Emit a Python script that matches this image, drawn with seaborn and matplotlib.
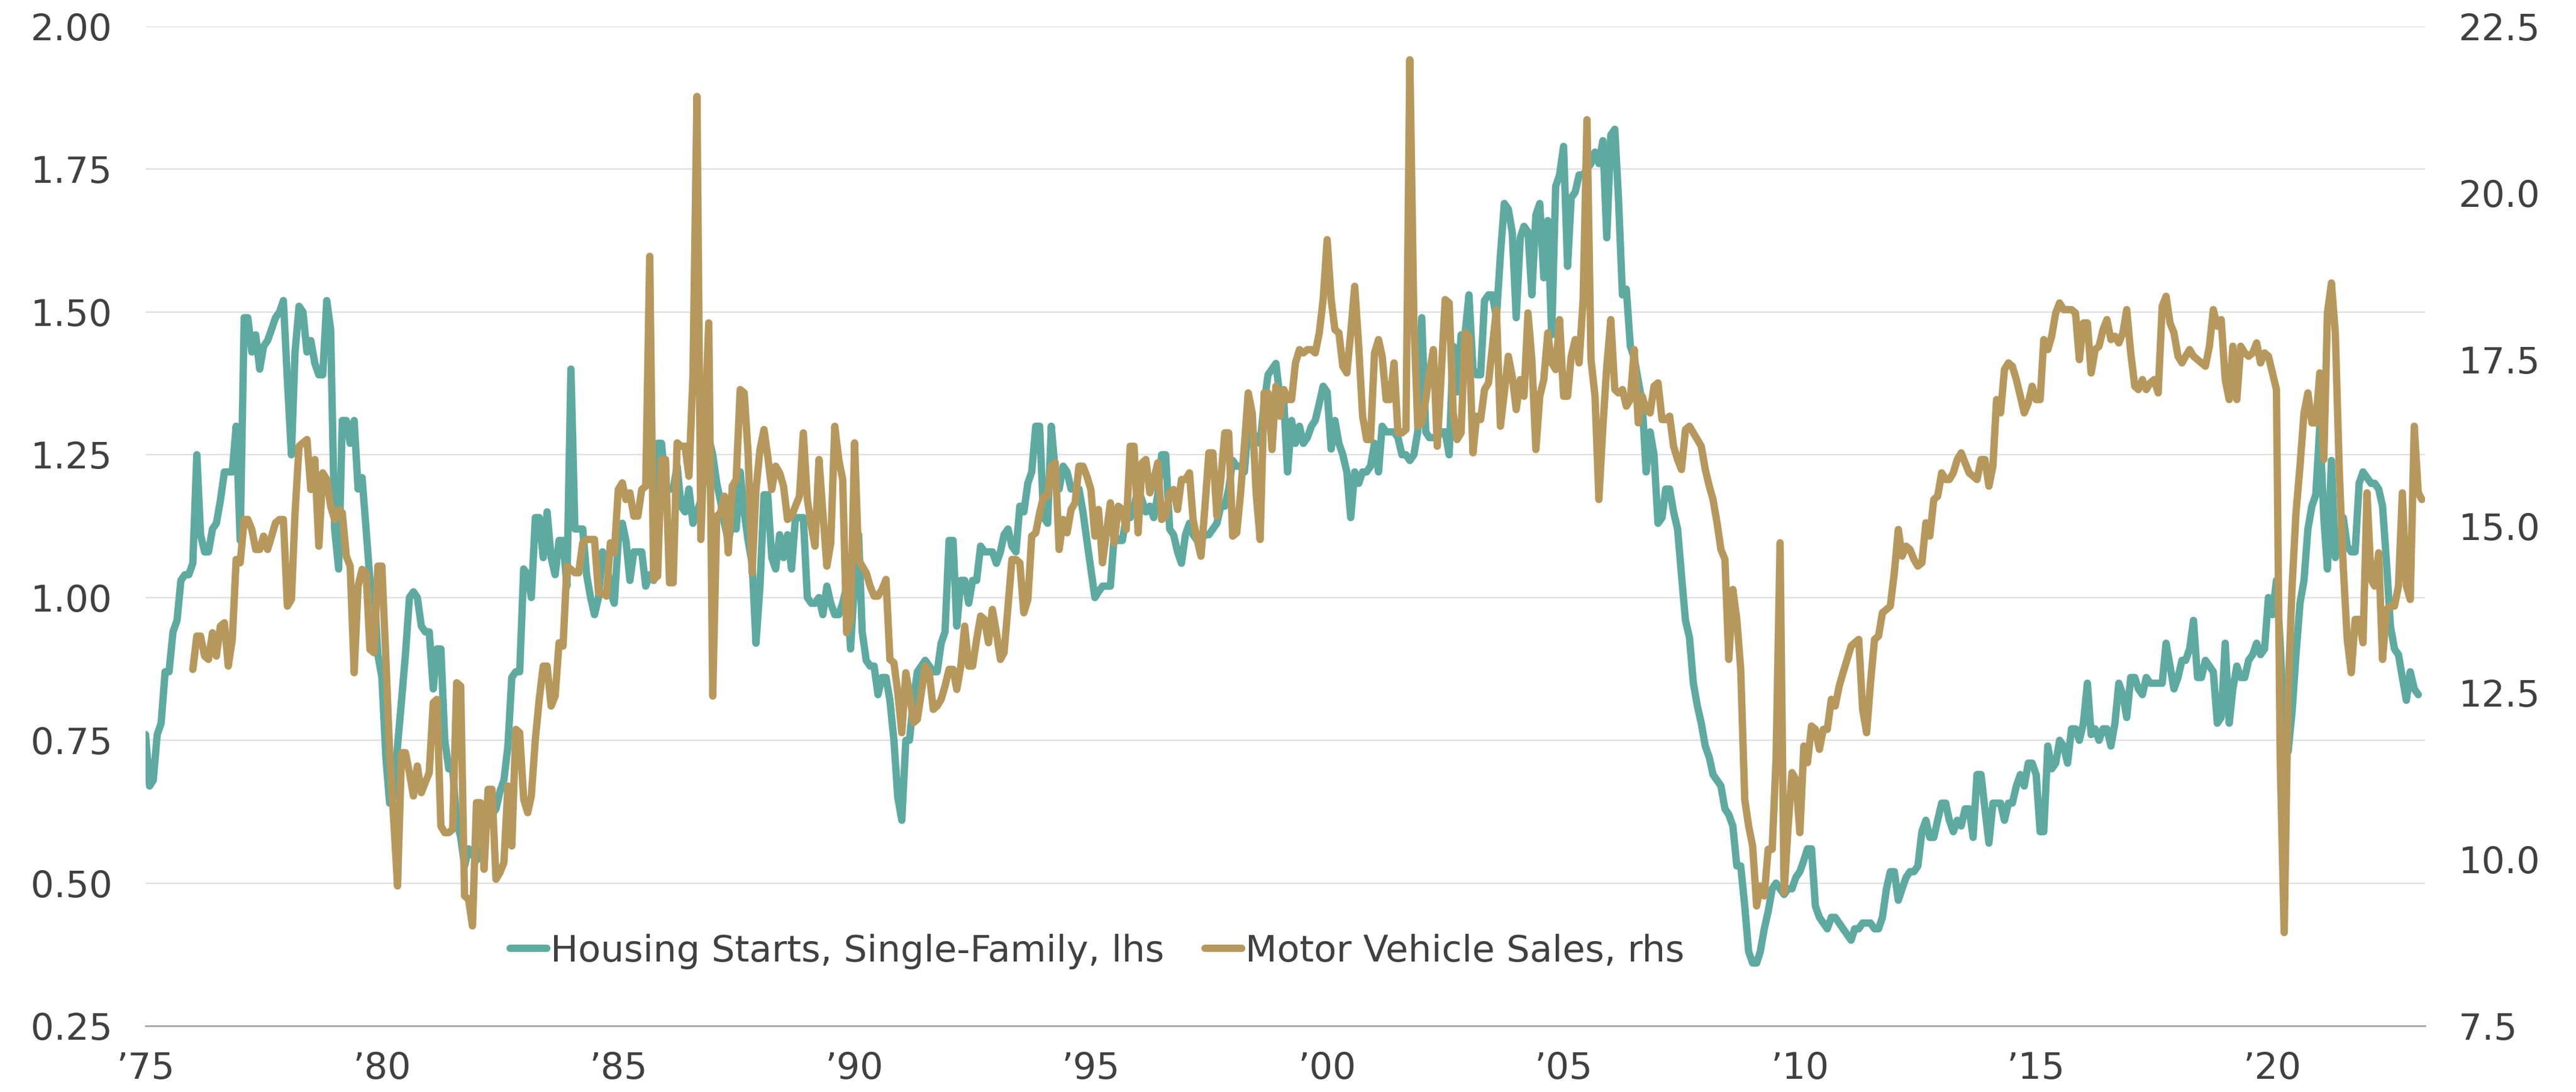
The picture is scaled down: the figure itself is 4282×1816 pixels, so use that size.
import pandas as pd
import matplotlib
matplotlib.use("Agg")
import matplotlib.pyplot as plt
import seaborn as sns

# Colors
teal = '#5EAAA0'
tan = '#B7985C'
text_color = '#404040'

# Single-family housing starts (mn, SAAR), monthly from Jan 1975
housing_starts = [
    0.76, 0.67, 0.68, 0.76, 0.78, 0.87, 0.87, 0.94, 0.96, 1.03, 1.04, 1.04,  # 1975
    1.06, 1.25, 1.11, 1.08, 1.08, 1.12, 1.13, 1.17, 1.22, 1.22, 1.22, 1.30,  # 1976
    1.10, 1.49, 1.49, 1.43, 1.46, 1.40, 1.44, 1.45, 1.47, 1.49, 1.50, 1.52,  # 1977
    1.38, 1.25, 1.43, 1.51, 1.50, 1.43, 1.45, 1.41, 1.39, 1.39, 1.52, 1.47,  # 1978
    1.12, 1.05, 1.31, 1.31, 1.27, 1.31, 1.19, 1.21, 1.12, 1.03, 1.02, 0.90,  # 1979
    0.86, 0.72, 0.64, 0.65, 0.74, 0.82, 0.90, 1.00, 1.01, 1.00, 0.95, 0.94,  # 1980
    0.94, 0.84, 0.91, 0.91, 0.75, 0.70, 0.70, 0.61, 0.58, 0.53, 0.56, 0.55,  # 1981
    0.54, 0.55, 0.58, 0.61, 0.62, 0.63, 0.66, 0.68, 0.74, 0.86, 0.87, 0.87,  # 1982
    1.05, 1.04, 1.00, 1.14, 1.14, 1.07, 1.15, 1.07, 1.04, 1.10, 1.10, 1.02,  # 1983
    1.40, 1.12, 1.12, 1.12, 1.04, 1.00, 0.97, 1.00, 1.08, 1.07, 1.01, 0.99,  # 1984
    1.10, 1.13, 1.10, 1.03, 1.08, 1.08, 1.08, 1.02, 1.04, 1.03, 1.27, 1.27,  # 1985
    1.19, 1.19, 1.19, 1.23, 1.16, 1.15, 1.19, 1.13, 1.15, 1.17, 1.22, 1.28,  # 1986
    1.25, 1.20, 1.17, 1.13, 1.10, 1.13, 1.12, 1.22, 1.15, 1.10, 1.06, 0.92,  # 1987
    1.02, 1.18, 1.18, 1.07, 1.05, 1.11, 1.07, 1.11, 1.05, 1.14, 1.14, 1.14,  # 1988
    1.00, 0.99, 0.99, 1.00, 0.97, 1.02, 0.99, 0.97, 0.97, 0.99, 1.02, 0.91,  # 1989
    1.03, 1.11, 0.94, 0.89, 0.88, 0.88, 0.83, 0.86, 0.86, 0.82, 0.75, 0.65,  # 1990
    0.61, 0.75, 0.75, 0.82, 0.87, 0.88, 0.89, 0.88, 0.87, 0.87, 0.92, 0.94,  # 1991
    1.10, 1.10, 0.95, 1.03, 1.03, 0.99, 1.03, 1.03, 1.09, 1.08, 1.08, 1.08,  # 1992
    1.06, 1.08, 1.11, 1.12, 1.09, 1.08, 1.16, 1.15, 1.20, 1.22, 1.30, 1.30,  # 1993
    1.14, 1.13, 1.30, 1.22, 1.19, 1.23, 1.22, 1.19, 1.19, 1.19, 1.15, 1.10,  # 1994
    1.05, 1.00, 1.01, 1.02, 1.02, 1.02, 1.11, 1.10, 1.10, 1.14, 1.14, 1.16,  # 1995
    1.19, 1.17, 1.15, 1.16, 1.14, 1.18, 1.25, 1.25, 1.12, 1.11, 1.08, 1.06,  # 1996
    1.11, 1.13, 1.11, 1.10, 1.10, 1.11, 1.11, 1.12, 1.13, 1.16, 1.16, 1.19,  # 1997
    1.24, 1.23, 1.23, 1.22, 1.30, 1.29, 1.28, 1.27, 1.34, 1.39, 1.40, 1.41,  # 1998
    1.35, 1.34, 1.22, 1.31, 1.27, 1.30, 1.27, 1.28, 1.30, 1.31, 1.34, 1.37,  # 1999
    1.36, 1.26, 1.31, 1.27, 1.25, 1.22, 1.14, 1.22, 1.20, 1.22, 1.22, 1.23,  # 2000
    1.27, 1.22, 1.30, 1.29, 1.29, 1.29, 1.28, 1.25, 1.25, 1.24, 1.25, 1.29,  # 2001
    1.49, 1.29, 1.28, 1.28, 1.28, 1.29, 1.29, 1.25, 1.44, 1.36, 1.46, 1.46,  # 2002
    1.53, 1.40, 1.39, 1.39, 1.52, 1.53, 1.53, 1.49, 1.60, 1.69, 1.68, 1.64,  # 2003
    1.49, 1.63, 1.65, 1.64, 1.53, 1.67, 1.69, 1.56, 1.66, 1.46, 1.72, 1.74,  # 2004
    1.79, 1.58, 1.70, 1.71, 1.74, 1.74, 1.75, 1.76, 1.78, 1.76, 1.80, 1.63,  # 2005
    1.81, 1.82, 1.70, 1.53, 1.54, 1.44, 1.42, 1.38, 1.34, 1.22, 1.29, 1.25,  # 2006
    1.13, 1.14, 1.19, 1.19, 1.15, 1.12, 1.04, 0.96, 0.93, 0.85, 0.81, 0.78,  # 2007
    0.74, 0.72, 0.69, 0.68, 0.67, 0.63, 0.62, 0.60, 0.53, 0.53, 0.46, 0.38,  # 2008
    0.36, 0.36, 0.38, 0.42, 0.45, 0.49, 0.50, 0.49, 0.48, 0.49, 0.49, 0.51,  # 2009
    0.52, 0.54, 0.56, 0.56, 0.46, 0.44, 0.43, 0.42, 0.44, 0.44, 0.43, 0.42,  # 2010
    0.41, 0.40, 0.42, 0.42, 0.43, 0.43, 0.43, 0.42, 0.42, 0.44, 0.49, 0.52,  # 2011
    0.52, 0.47, 0.49, 0.51, 0.52, 0.52, 0.53, 0.59, 0.61, 0.58, 0.58, 0.61,  # 2012
    0.64, 0.64, 0.61, 0.59, 0.61, 0.60, 0.63, 0.63, 0.58, 0.69, 0.69, 0.63,  # 2013
    0.57, 0.64, 0.64, 0.64, 0.61, 0.64, 0.64, 0.67, 0.69, 0.67, 0.71, 0.71,  # 2014
    0.69, 0.59, 0.59, 0.74, 0.70, 0.71, 0.75, 0.74, 0.71, 0.77, 0.77, 0.75,  # 2015
    0.78, 0.85, 0.76, 0.77, 0.75, 0.77, 0.77, 0.74, 0.78, 0.85, 0.83, 0.79,  # 2016
    0.86, 0.86, 0.84, 0.83, 0.86, 0.85, 0.85, 0.85, 0.85, 0.92, 0.88, 0.84,  # 2017
    0.86, 0.89, 0.89, 0.91, 0.96, 0.86, 0.86, 0.89, 0.88, 0.87, 0.78, 0.79,  # 2018
    0.92, 0.78, 0.84, 0.88, 0.86, 0.86, 0.89, 0.90, 0.92, 0.90, 0.91, 1.00,  # 2019
    0.97, 1.03, 0.92, 0.76, 0.73, 0.80, 0.90, 0.99, 1.03, 1.12, 1.16, 1.18,  # 2020
    1.30, 1.14, 1.05, 1.24, 1.07, 1.09, 1.14, 1.09, 1.08, 1.08, 1.20, 1.22,  # 2021
    1.21, 1.20, 1.20, 1.19, 1.16, 1.06, 0.95, 0.91, 0.90, 0.86, 0.82, 0.87,  # 2022
    0.84, 0.83,                                                              # 2023
]

# Total motor vehicle sales (mn, SAAR), monthly from Jan 1976
vehicle_sales = [
    12.85, 13.35, 13.35, 13.05, 13.0, 13.4, 13.05, 13.5, 13.55, 12.9, 13.3, 14.5,    # 1976
    14.45, 15.1, 15.1, 14.95, 14.65, 14.65, 14.85, 14.65, 14.85, 15.05, 15.1, 15.1,  # 1977
    13.8, 13.9, 15.2, 16.2, 16.25, 16.3, 15.55, 16.0, 14.7, 15.8, 15.7, 15.3,        # 1978
    15.1, 15.25, 15.2, 14.55, 14.4, 12.8, 14.1, 14.35, 14.3, 13.15, 13.1, 14.4,      # 1979
    14.4, 13.0, 11.6, 10.6, 9.6, 11.6, 11.6, 11.3, 10.95, 11.4, 11.0, 11.15,         # 1980
    11.3, 12.35, 12.4, 10.5, 10.4, 10.4, 10.45, 12.65, 12.6, 9.45, 9.4, 9.0,         # 1981
    10.85, 10.85, 9.85, 11.05, 11.05, 9.7, 9.8, 9.95, 11.1, 10.2, 11.95, 11.9,       # 1982
    10.9, 10.7, 10.95, 11.8, 12.4, 12.9, 12.9, 12.3, 12.45, 13.25, 13.2, 14.4,       # 1983
    14.35, 14.3, 14.3, 14.75, 14.8, 14.8, 14.8, 14.0, 14.0, 13.95, 14.75, 14.6,      # 1984
    15.55, 15.65, 15.4, 15.5, 15.15, 15.15, 15.55, 15.6, 19.05, 14.2, 14.25, 16.0,   # 1985
    16.0, 14.15, 14.15, 16.25, 16.2, 16.2, 15.75, 17.25, 21.45, 14.8, 16.5, 18.05,   # 1986
    12.45, 15.15, 15.2, 15.45, 14.6, 15.6, 15.7, 17.05, 17.0, 16.1, 14.3, 15.55,     # 1987
    16.15, 16.45, 16.05, 15.55, 15.9, 15.8, 15.6, 15.1, 15.15, 15.3, 15.45, 16.4,    # 1988
    15.4, 15.0, 14.7, 16.0, 15.2, 14.4, 14.75, 16.5, 16.0, 15.7, 13.4, 13.6,         # 1989
    16.25, 14.5, 14.4, 14.3, 14.1, 13.95, 13.95, 14.05, 14.2, 13.0, 12.95, 12.5,     # 1990
    11.9, 12.8, 12.5, 12.05, 12.1, 12.5, 12.9, 12.8, 12.25, 12.3, 12.4, 12.6,        # 1991
    12.85, 12.85, 12.55, 12.9, 13.5, 12.9, 12.9, 13.3, 13.65, 13.6, 13.25, 13.75,    # 1992
    13.4, 13.0, 13.1, 13.8, 14.5, 14.5, 14.45, 13.7, 13.9, 14.85, 14.9, 15.2,        # 1993
    15.45, 15.45, 15.9, 15.95, 14.65, 15.1, 14.9, 15.25, 15.35, 15.9, 15.9, 15.75,   # 1994
    15.55, 14.85, 15.25, 14.45, 14.9, 15.35, 14.75, 15.3, 15.25, 14.95, 16.2, 16.2,  # 1995
    14.9, 15.95, 16.0, 15.5, 15.7, 15.95, 15.1, 15.15, 15.5, 15.55, 15.25, 15.7,     # 1996
    15.7, 15.8, 15.1, 14.8, 14.55, 15.3, 16.1, 16.1, 15.15, 15.7, 16.4, 16.4,        # 1997
    14.85, 14.9, 15.45, 16.2, 17.0, 16.7, 15.5, 14.8, 17.0, 17.0, 16.15, 17.1,       # 1998
    16.65, 17.05, 16.9, 16.9, 17.45, 17.65, 17.6, 17.65, 17.65, 17.6, 17.9, 18.4,    # 1999
    19.3, 18.4, 17.95, 17.9, 17.4, 17.3, 17.9, 18.6, 17.7, 16.65, 16.3, 16.3,        # 2000
    17.6, 17.8, 17.55, 16.9, 16.9, 17.45, 16.4, 16.4, 16.45, 22.0, 18.1, 16.5,       # 2001
    16.55, 16.9, 17.3, 17.65, 16.2, 17.3, 18.4, 18.35, 16.7, 16.3, 16.4, 17.9,       # 2002
    17.85, 16.1, 16.65, 16.6, 17.05, 17.15, 17.7, 18.25, 16.5, 17.0, 17.55, 17.25,   # 2003
    16.75, 17.2, 16.95, 18.2, 17.5, 16.15, 16.95, 17.2, 17.9, 17.45, 17.35, 18.1,    # 2004
    16.95, 16.95, 17.55, 17.8, 17.45, 18.4, 21.1, 17.5, 16.95, 15.4, 16.5, 17.4,     # 2005
    18.1, 17.05, 17.0, 17.05, 16.8, 16.9, 17.65, 16.55, 16.95, 16.75, 16.7, 17.1,    # 2006
    17.15, 16.6, 16.6, 16.65, 16.2, 16.0, 15.85, 16.45, 16.5, 16.4, 16.3, 16.2,      # 2007
    15.85, 15.6, 15.4, 15.05, 14.65, 14.5, 13.0, 14.05, 13.6, 12.85, 10.9, 10.5,     # 2008
    10.2, 9.3, 9.6, 9.45, 10.15, 10.15, 11.5, 14.75, 9.5, 10.45, 11.3, 11.2,         # 2009
    10.4, 11.7, 11.45, 12.0, 11.95, 11.65, 11.95, 11.95, 12.4, 12.3, 12.6, 12.8,     # 2010
    13.0, 13.2, 13.25, 13.3, 12.25, 11.9, 12.65, 13.3, 13.35, 13.7, 13.75, 13.8,     # 2011
    14.3, 14.95, 14.55, 14.7, 14.65, 14.5, 14.4, 14.45, 15.05, 14.85, 15.4, 15.45,   # 2012
    15.8, 15.7, 15.7, 15.8, 16.0, 16.1, 15.95, 15.8, 15.75, 15.7, 16.0, 16.0,        # 2013
    15.6, 15.9, 16.9, 16.7, 17.35, 17.45, 17.4, 17.2, 16.95, 16.7, 16.85, 17.1,      # 2014
    16.9, 16.9, 17.8, 17.65, 17.85, 18.2, 18.35, 18.25, 18.25, 18.25, 18.2, 17.5,    # 2015
    18.05, 18.05, 17.3, 17.65, 17.7, 17.95, 18.1, 17.8, 17.85, 17.75, 17.9, 18.25,   # 2016
    17.6, 17.1, 17.05, 17.2, 17.05, 17.15, 17.2, 17.0, 18.3, 18.45, 18.05, 17.9,     # 2017
    17.55, 17.45, 17.55, 17.65, 17.55, 17.5, 17.45, 17.4, 17.7, 18.25, 18.0, 18.1,   # 2018
    17.2, 16.9, 17.7, 16.9, 17.7, 17.6, 17.55, 17.6, 17.75, 17.45, 17.6, 17.55,      # 2019
    17.3, 17.05, 11.5, 8.9, 12.5, 14.1, 15.2, 15.9, 16.7, 17.0, 16.55, 16.55,        # 2020
    17.3, 16.0, 18.2, 18.65, 17.9, 15.8, 14.4, 13.3, 12.8, 13.6, 13.6, 13.25,        # 2021
    15.5, 14.2, 14.1, 14.6, 13.0, 13.75, 13.8, 13.8, 14.1, 15.5, 14.1, 13.9,         # 2022
    16.5, 15.5, 15.4,                                                                # 2023
]

tick_years = [1975, 1980, 1985, 1990, 1995, 2000, 2005, 2010, 2015, 2020]
tick_labels = ["\u2019" + str(y)[2:] for y in tick_years]
left_ticks = [0.25, 0.50, 0.75, 1.00, 1.25, 1.50, 1.75, 2.00]
right_ticks = [7.5, 10.0, 12.5, 15.0, 17.5, 20.0, 22.5]
series_names = ["Housing Starts, Single-Family, lhs", "Motor Vehicle Sales, rhs"]

hs = pd.DataFrame({
    "date": pd.date_range("1975-01-01", periods=len(housing_starts), freq="MS"),
    "value": housing_starts,
})
mv = pd.DataFrame({
    "date": pd.date_range("1976-01-01", periods=len(vehicle_sales), freq="MS"),
    "value": vehicle_sales,
})

sns.set_style("white")
plt.rcParams["font.family"] = ["DejaVu Sans"]

W, H = 4282, 1816
fig = plt.figure(figsize=(W / 200, H / 200), dpi=200)
left, right, top, bottom = 242, 4031, 44, 1706
ax = fig.add_axes([left / W, 1 - bottom / H, (right - left) / W, (bottom - top) / H])
ax2 = ax.twinx()

line_kw = dict(linewidth=4.4, solid_capstyle="round", solid_joinstyle="round")
sns.lineplot(data=hs, x="date", y="value", ax=ax, color=teal, legend=False, **line_kw)
sns.lineplot(data=mv, x="date", y="value", ax=ax2, color=tan, legend=False, **line_kw)

ax.set_xlim(pd.Timestamp("1975-01-01"), pd.Timestamp("2023-03-25"))
ax.set_ylim(0.25, 2.00)
ax2.set_ylim(7.5, 22.5)

ax.set_xticks([pd.Timestamp(f"{y}-01-01") for y in tick_years])
ax.set_xticklabels(tick_labels)
ax.set_yticks(left_ticks)
ax.set_yticklabels([f"{v:.2f}" for v in left_ticks])
ax2.set_yticks(right_ticks)
ax2.set_yticklabels([f"{v:.1f}" for v in right_ticks])

ax.set_xlabel("")
ax.set_ylabel("")
ax2.set_ylabel("")

ax.yaxis.grid(True, color="#dedede", linewidth=0.8)
ax.xaxis.grid(False)
ax2.grid(False)
ax.set_axisbelow(True)

for a in (ax, ax2):
    for s in ("top", "left", "right", "bottom"):
        a.spines[s].set_visible(False)
ax.spines["bottom"].set_visible(True)
ax.spines["bottom"].set_color("#a6a6a6")
ax.spines["bottom"].set_linewidth(1.0)

ax.tick_params(axis="y", length=0, labelsize=22, labelcolor=text_color, pad=20)
ax.tick_params(axis="x", length=0, labelsize=22, labelcolor=text_color, pad=15)
ax2.tick_params(axis="y", length=0, labelsize=22, labelcolor=text_color, pad=20)

ax2.legend(handles=[ax.lines[0], ax2.lines[0]], labels=series_names,
           loc="center", bbox_to_anchor=(0.4175, 0.0746), ncol=2, frameon=False,
           fontsize=22, handlelength=1.0, handletextpad=0.1, columnspacing=1.1,
           labelcolor=text_color)

fig.savefig("out.png", dpi=200)
